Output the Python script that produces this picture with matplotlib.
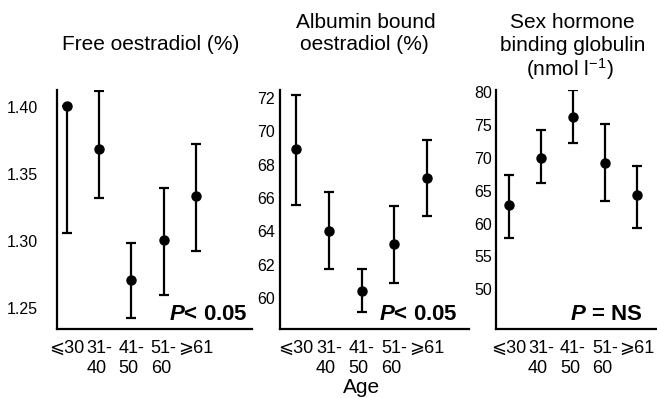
import numpy as np
import matplotlib
matplotlib.use("Agg")
import matplotlib.pyplot as plt

plt.rcParams["font.family"] = ["Liberation Sans", "DejaVu Sans"]
plt.rcParams["mathtext.fontset"] = "custom"
plt.rcParams["mathtext.rm"] = "Liberation Sans"
plt.rcParams["mathtext.it"] = "Liberation Sans:italic:bold"

age_labels = ["\u2a7d30", "31-\n40", "41-\n50", "51-\n60", "\u2a7e61"]

free_mean = [1.401, 1.369, 1.271, 1.301, 1.334]
free_upper = [1.401, 1.412, 1.2985, 1.340, 1.373]
free_lower = [1.306, 1.332, 1.2425, 1.260, 1.293]

alb_mean = [68.94, 64.02, 60.42, 63.24, 67.18]
alb_upper = [72.14, 66.34, 61.76, 65.54, 69.46]
alb_lower = [65.6, 61.76, 59.2, 60.94, 64.9]

shbg_mean = [62.85, 70.0, 76.3, 69.3, 64.3]
shbg_upper = [67.4, 74.2, 80.3, 75.2, 68.8]
shbg_lower = [57.77, 66.15, 72.3, 63.5, 59.3]

free_ticks = [1.25, 1.30, 1.35, 1.40]
alb_ticks = [60, 62, 64, 66, 68, 70, 72]
shbg_ticks = [50, 55, 60, 65, 70, 75, 80]

W, H = 657, 398
fig = plt.figure(figsize=(W / 100, H / 100), dpi=100)


def px_axes(left, right, bottom, top):
    return fig.add_axes([left / W, 1 - bottom / H, (right - left) / W, (bottom - top) / H])


def fig_text(xpx, ypx, s, **kw):
    return fig.text(xpx / W, 1 - ypx / H, s, **kw)


panels = [
    # (box px, xlim, ylim, means, upper, lower, ticks, tick fmt, ytick pad, p text, p right px)
    ((57, 252, 329, 90), (-0.31, 5.74), (1.2345, 1.413), free_mean, free_upper, free_lower,
     free_ticks, "{:.2f}", 14, r"$P$< 0.05", 248),
    ((280, 469, 329, 90), (-0.49, 5.28), (58.16, 72.46), alb_mean, alb_upper, alb_lower,
     alb_ticks, "{:d}", 3.5, r"$P$< 0.05", 458),
    ((496, 656, 329, 90), (-0.41, 4.6), (43.96, 80.35), shbg_mean, shbg_upper, shbg_lower,
     shbg_ticks, "{:d}", 3, r"$P$ = NS", 642),
]

for box, xlim, ylim, mean, upper, lower, ticks, fmt, pad, ptxt, pright in panels:
    ax = px_axes(*box)
    x = np.arange(len(mean))
    mean = np.array(mean)
    yerr = [mean - np.array(lower), np.array(upper) - mean]
    ax.errorbar(x, mean, yerr=yerr, fmt="o", color="black", ms=6.5,
                elinewidth=1.6, capsize=3.5, capthick=1.6)
    ax.set_xlim(*xlim)
    ax.set_ylim(*ylim)
    ax.set_yticks(ticks)
    ax.set_yticklabels([fmt.format(t) for t in ticks])
    ax.set_xticks(x)
    ax.set_xticklabels(age_labels, ha="center", multialignment="left")
    ax.tick_params(axis="y", length=0, pad=pad, labelsize=11.5)
    ax.tick_params(axis="x", length=0, pad=8, labelsize=13)
    for s in ["top", "right"]:
        ax.spines[s].set_visible(False)
    for s in ["left", "bottom"]:
        ax.spines[s].set_linewidth(1.6)
    fig_text(pright, 314, ptxt, ha="right", va="center", fontsize=16, fontweight="bold")

# titles, one line at a time (baseline positions in px)
title_kw = dict(ha="center", va="baseline", fontsize=15)
fig_text(151, 50, "Free oestradiol (%)", **title_kw)
fig_text(366, 28, "Albumin bound", **title_kw)
fig_text(364, 50, "oestradiol (%)", **title_kw)
fig_text(572, 28, "Sex hormone", **title_kw)
fig_text(573, 51, "binding globulin", **title_kw)
fig_text(570, 76, "(nmol l$^{-1}$)", **title_kw)
fig_text(362, 397, "Age", ha="center", va="bottom", fontsize=15)

fig.savefig("out.png", dpi=100)
